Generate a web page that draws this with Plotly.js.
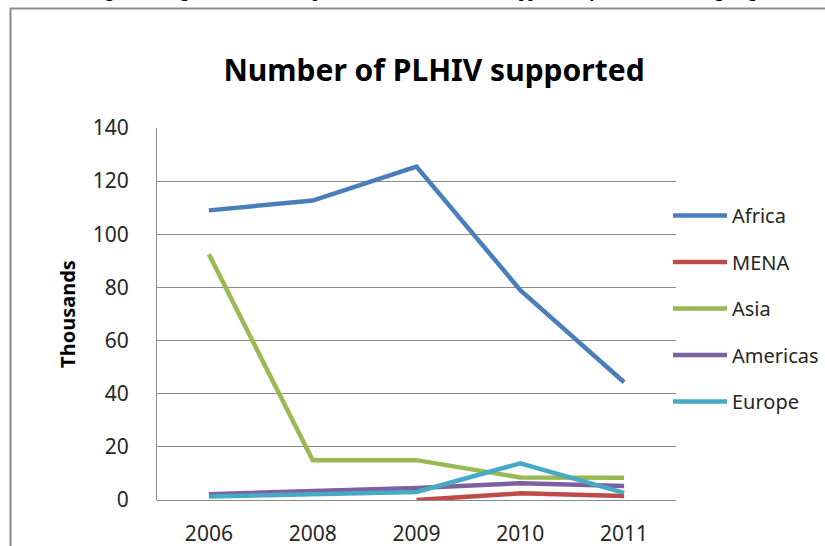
<!DOCTYPE html>
<html>
<head>
<meta charset="utf-8">
<script src="https://cdn.plot.ly/plotly-3.0.1.min.js"></script>
<style>
html,body{margin:0;padding:0;background:#fff;}
#chart{width:825px;height:546px;}
</style>
</head>
<body>
<div id="chart"></div>
<script>
const years = ["2006", "2008", "2009", "2010", "2011"];
const africa = [109, 112.7, 125.5, 79, 44.3];
const mena = [null, null, 0, 2.5, 1.5];
const asia = [92.5, 15, 15, 8.5, 8.4];
const americas = [2.2, 3.3, 4.5, 6.3, 5.3];
const europe = [1.3, 2, 3, 13.8, 2.7];

const seriesNames = ["Africa", "MENA", "Asia", "Americas", "Europe"];
const seriesData = [africa, mena, asia, americas, europe];
const colors = ["#4A7EBB", "#BE4B48", "#98B954", "#7D60A0", "#46AAC5"];

const traces = seriesNames.map((n, i) => ({
  type: "scatter",
  mode: "lines",
  name: n,
  x: years,
  y: seriesData[i],
  legendgroup: n,
  line: {color: colors[i], width: 4.5},
  connectgaps: false
}));

const L = 157, R = 676, T = 128, B = 500;
const W = 825, H = 546;
const pw = R - L, ph = B - T;
const px = v => (v - L) / pw;
const py = v => (B - v) / ph;

const layout = {
  width: W, height: H,
  margin: {l: L, r: W - R, t: T, b: H - B, pad: 0, autoexpand: false},
  paper_bgcolor: "#ffffff",
  plot_bgcolor: "#ffffff",
  font: {family: "Noto Sans, Liberation Sans, sans-serif", color: "#262626"},
  title: {
    text: "<b>Number of PLHIV supported</b>",
    font: {size: 30, color: "#000000", family: "Noto Sans, sans-serif"},
    xref: "container", yref: "container",
    x: 434 / W, xanchor: "center",
    y: 1 - 70 / H, yanchor: "middle"
  },
  xaxis: {
    type: "category",
    range: [-0.5, 4.5],
    showgrid: false,
    zeroline: false,
    showline: false,
    ticks: "",
    tickfont: {size: 21, color: "#262626"},
    ticklabelstandoff: 19,
    fixedrange: true
  },
  yaxis: {
    range: [0, 140],
    dtick: 20,
    showgrid: true,
    gridcolor: "#8a8a8a",
    gridwidth: 1,
    zeroline: true,
    zerolinecolor: "#8a8a8a",
    zerolinewidth: 1,
    showline: true,
    linecolor: "#8a8a8a",
    linewidth: 1,
    ticks: "",
    tickfont: {size: 21, color: "#262626"},
    ticklabelstandoff: 23,
    title: {
      text: "<b>Thousands</b>",
      font: {size: 20, color: "#000000"},
      standoff: 11
    },
    fixedrange: true
  },
  showlegend: true,
  legend: {
    x: px(668), xanchor: "left",
    y: py(196), yanchor: "top",
    font: {size: 20, color: "#262626"},
    bgcolor: "rgba(0,0,0,0)",
    tracegroupgap: 17.5,
    itemwidth: 54
  },
  shapes: [
    {type: "rect", xref: "paper", yref: "paper",
     x0: px(10.5), x1: px(840), y0: py(560), y1: py(8.5),
     line: {color: "#8c8c8c", width: 2}, fillcolor: "rgba(0,0,0,0)", layer: "below"}
  ],
  annotations: [
    {xref: "paper", yref: "paper", x: px(88), y: py(3), xanchor: "left", yanchor: "bottom",
     text: "<b>Figure 8: Regional trends in reported number of PLHIV supported by Alliance Linking Organisations</b>",
     showarrow: false, font: {family: "Liberation Serif, DejaVu Serif, serif", size: 17, color: "#000000"}}
  ]
};

Plotly.newPlot("chart", traces, layout, {displayModeBar: false, staticPlot: true});
</script>
</body>
</html>
